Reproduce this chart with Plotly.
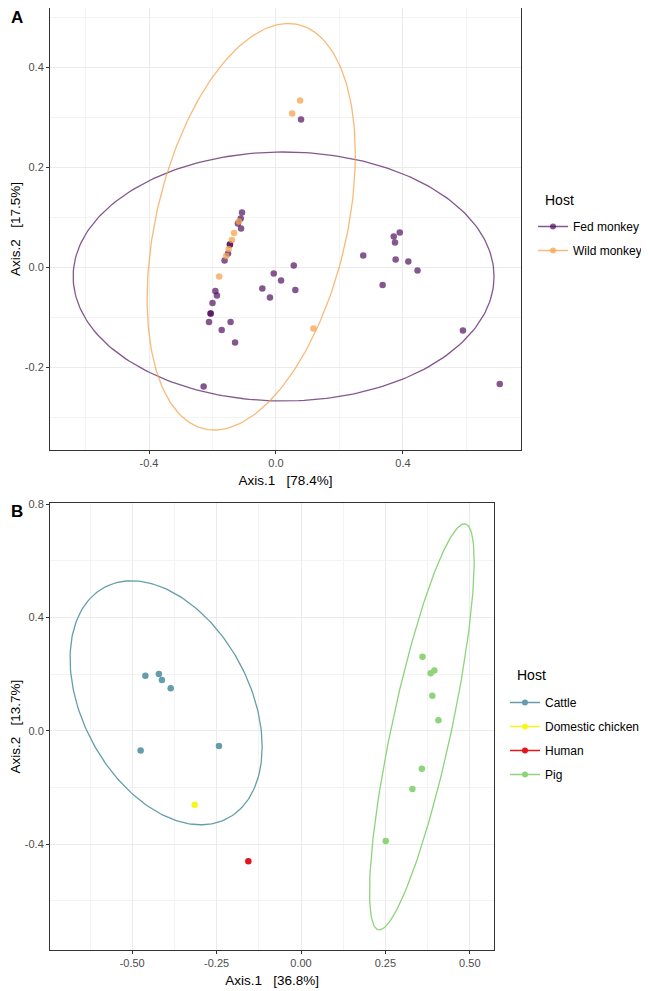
import numpy as np
import plotly.graph_objects as go

# ---------- datos panel A (monos) ----------
a_fed_x = [0.079, 0.275, 0.371, 0.390, 0.375, 0.377, 0.417, 0.446, 0.336, 0.589,
           0.705, 0.056, 0.061, 0.016, -0.043, -0.019, -0.007, -0.107, -0.111, -0.110,
           -0.120, -0.145, -0.145, -0.151, -0.162, -0.191, -0.186, -0.200, -0.206, -0.206,
           -0.211, -0.143, -0.171, -0.129, -0.228]
a_fed_y = [0.295, 0.023, 0.061, 0.069, 0.049, 0.015, 0.011, -0.007, -0.036, -0.127,
           -0.234, 0.003, -0.046, -0.027, -0.043, -0.061, -0.013, 0.109, 0.097, 0.077,
           0.087, 0.045, 0.045, 0.027, 0.013, -0.048, -0.057, -0.072, -0.093, -0.093,
           -0.110, -0.110, -0.126, -0.151, -0.239]
a_wild_x = [0.076, 0.051, 0.118, -0.117, -0.132, -0.139, -0.149, -0.157, -0.179]
a_wild_y = [0.333, 0.307, -0.123, 0.091, 0.068, 0.054, 0.036, 0.022, -0.019]

a_grupos = ["Fed monkey", "Wild monkey"]
a_colores = ["rgba(68,1,84,0.66)", "rgba(246,163,76,0.75)"]
# elipses: centro, semiejes y fase
a_elip_cx = [0.024, -0.078]
a_elip_cy = [-0.019, 0.0805]
a_elip_rx = [0.663, 0.328]
a_elip_ry = [0.249, 0.4065]
a_elip_fase = [np.pi / 2, 1.208]
a_xticks = [-0.4, 0.0, 0.4]
a_xticktext = ["-0.4", "0.0", "0.4"]
a_yticks = [-0.2, 0.0, 0.2, 0.4]
a_yticktext = ["-0.2", "0.0", "0.2", "0.4"]

# ---------- datos panel B (otros hospedadores) ----------
b_grupos = ["Cattle", "Domestic chicken", "Human", "Pig"]
b_x = [
    [-0.461, -0.421, -0.412, -0.386, -0.475, -0.243],
    [-0.315],
    [-0.156],
    [0.360, 0.395, 0.384, 0.389, 0.407, 0.358, 0.330, 0.251],
]
b_y = [
    [0.195, 0.201, 0.180, 0.151, -0.069, -0.053],
    [-0.260],
    [-0.460],
    [0.262, 0.213, 0.204, 0.124, 0.038, -0.133, -0.205, -0.388],
]
b_colores = ["#659DAC", "#F7F71E", "#E3141C", "#8DD47B"]
b_elip_grupo = [0, 3]
b_elip_cx = [-0.3995, 0.358]
b_elip_cy = [0.0995, 0.0145]
b_elip_rx = [0.2845, 0.155]
b_elip_ry = [0.4305, 0.7165]
b_elip_fase = [1.939, 0.621]
b_xticks = [-0.5, -0.25, 0.0, 0.25, 0.5]
b_xticktext = ["-0.50", "-0.25", "0.00", "0.25", "0.50"]
b_yticks = [-0.4, 0.0, 0.4, 0.8]
b_yticktext = ["-0.4", "0.0", "0.4", "0.8"]


def elipse(cx, cy, rx, ry, fase, n=240):
    t = np.linspace(0, 2 * np.pi, n)
    return cx + rx * np.cos(t), cy + ry * np.cos(t - fase)


fig = go.Figure()

# ---- panel A ----
puntos_a = [(a_fed_x, a_fed_y), (a_wild_x, a_wild_y)]
for i, nombre in enumerate(a_grupos):
    ex, ey = elipse(a_elip_cx[i], a_elip_cy[i], a_elip_rx[i], a_elip_ry[i], a_elip_fase[i])
    fig.add_trace(go.Scatter(x=ex, y=ey, mode="lines", line=dict(color=a_colores[i], width=1.3),
                             showlegend=False, hoverinfo="skip", xaxis="x", yaxis="y"))
for i, nombre in enumerate(a_grupos):
    fig.add_trace(go.Scatter(x=puntos_a[i][0], y=puntos_a[i][1], mode="markers",
                             marker=dict(color=a_colores[i], size=6.5), showlegend=False,
                             name=nombre, xaxis="x", yaxis="y"))
    # entrada de leyenda (linea + punto, como ggplot)
    fig.add_trace(go.Scatter(x=[None], y=[None], mode="lines+markers", name=nombre,
                             line=dict(color=a_colores[i], width=1.5),
                             marker=dict(color=a_colores[i], size=6),
                             legend="legend", legendgroup="a" + str(i), xaxis="x", yaxis="y"))

# ---- panel B ----
for k, g in enumerate(b_elip_grupo):
    ex, ey = elipse(b_elip_cx[k], b_elip_cy[k], b_elip_rx[k], b_elip_ry[k], b_elip_fase[k])
    fig.add_trace(go.Scatter(x=ex, y=ey, mode="lines", line=dict(color=b_colores[g], width=1.3),
                             showlegend=False, hoverinfo="skip", xaxis="x2", yaxis="y2"))
for i, nombre in enumerate(b_grupos):
    fig.add_trace(go.Scatter(x=b_x[i], y=b_y[i], mode="markers",
                             marker=dict(color=b_colores[i], size=6.5), showlegend=False,
                             name=nombre, xaxis="x2", yaxis="y2"))
    fig.add_trace(go.Scatter(x=[None], y=[None], mode="lines+markers", name=nombre,
                             line=dict(color=b_colores[i], width=1.5),
                             marker=dict(color=b_colores[i], size=6),
                             legend="legend2", legendgroup="b" + str(i), xaxis="x2", yaxis="y2"))

# la pagina html tiene 8px de margen en el body: la figura se dibuja desplazada
OFF = 8
W, H = 649 - OFF, 991 - OFF


def px(x):
    return (x - OFF) / W


def py(y):
    return 1 - (y - OFF) / H


tick_font = dict(family="Liberation Sans, Arial", size=11, color="#4D4D4D")
tit_font = dict(family="Liberation Sans, Arial", size=13.5, color="black")


def eje(rango, vals, textos, dtick, dominio, titulo, ancla, standoff):
    return dict(range=rango, tickmode="array", tickvals=vals, ticktext=textos,
                domain=dominio, anchor=ancla, automargin=False,
                showgrid=True, gridcolor="#EBEBEB", gridwidth=1, zeroline=False,
                minor=dict(tickmode="linear", dtick=dtick / 2, tick0=0, showgrid=True,
                           gridcolor="#F3F3F3", gridwidth=1),
                showline=True, linecolor="#333333", linewidth=1, mirror=True,
                ticks="outside", ticklen=3, tickcolor="#333333", tickwidth=1,
                tickfont=tick_font, title=dict(text=titulo, font=tit_font, standoff=standoff))


sp = "\u00a0\u00a0\u00a0"
leg = dict(xanchor="left", yanchor="top", font=dict(size=12), tracegroupgap=5,
           traceorder="grouped", bgcolor="rgba(0,0,0,0)")


def etiqueta(texto, x, y, size, xanchor="center"):
    return dict(text=texto, x=px(x), y=py(y), xref="paper", yref="paper", xanchor=xanchor,
                yanchor="middle", showarrow=False, font=dict(size=size, color="black"))


fig.update_layout(
    width=W, height=H, margin=dict(l=0, r=0, t=0, b=0),
    paper_bgcolor="white", plot_bgcolor="white",
    font=dict(family="Liberation Sans, Arial", color="black"),
    # el borde superior del panel A queda en y=8 (limite de la figura)
    xaxis=eje([-0.712, 0.772], a_xticks, a_xticktext, 0.4, [px(50), px(521)],
              "Axis.1" + sp + "[78.4%]", "y", 7),
    yaxis=eje([-0.366, 0.518], a_yticks, a_yticktext, 0.2, [py(450), 1.0],
              "Axis.2" + sp + "[17.5%]", "x", 4),
    xaxis2=eje([-0.7435, 0.5726], b_xticks, b_xticktext, 0.25, [px(50), px(494.3)],
               "Axis.1" + sp + "[36.8%]", "y2", 7),
    yaxis2=eje([-0.773, 0.8035], b_yticks, b_yticktext, 0.4, [py(950), py(503.3)],
               "Axis.2" + sp + "[13.7%]", "x2", 4),
    legend=dict(x=px(533), y=py(212), **leg),
    legend2=dict(x=px(505), y=py(688), **leg),
    annotations=[
        etiqueta("<b>A</b>", 9, 18, 17, "left"),
        etiqueta("<b>B</b>", 9, 511, 17, "left"),
        etiqueta("Host", 543, 200, 14, "left"),
        etiqueta("Host", 515, 675, 14, "left"),
    ],
)

fig.write_html("out.html")
